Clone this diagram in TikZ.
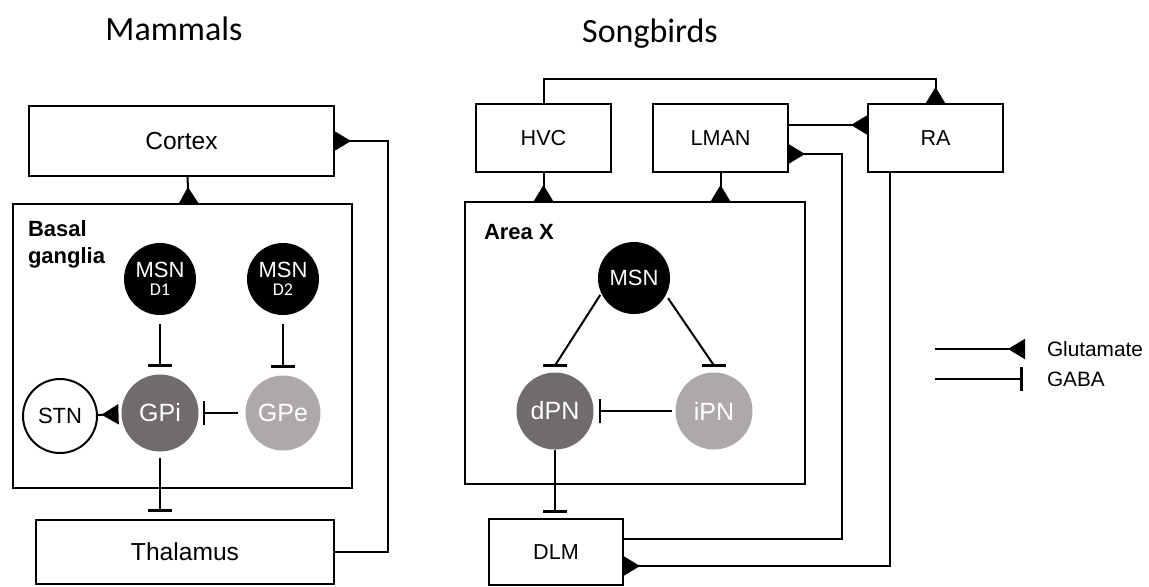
\documentclass[tikz,border=0pt]{standalone}
\usepackage{fontspec}
\setmainfont{Liberation Sans}
\newfontfamily\carlito{Carlito}
\usetikzlibrary{arrows.meta, positioning, calc}

\definecolor{gpdark}{RGB}{112,108,107}
\definecolor{gplight}{RGB}{173,169,168}
\newcommand{\dtype}[1]{{\carlito\fontsize{9}{10}\selectfont #1}}

\tikzset{
  region/.style={draw, line width=1pt, inner sep=0pt, outer sep=0pt},
  mamregion/.style={region, font=\fontsize{12.3}{14}\selectfont},
  birdregion/.style={region, minimum width=67.5pt, minimum height=34pt, font=\fontsize{10.8}{13}\selectfont},
  boxlabel/.style={anchor=north west, inner sep=0pt, align=left, font=\fontsize{11}{13.5}\selectfont\bfseries},
  neuron/.style={circle, inner sep=0pt, outer sep=0pt, text=white, align=center},
  msn/.style={neuron, fill=black, minimum size=36pt, font=\fontsize{11}{12}\selectfont},
  dgp/.style={neuron, fill=gpdark, minimum size=38.5pt, font=\fontsize{12.5}{14}\selectfont},
  lgp/.style={neuron, fill=gplight, minimum size=37.5pt, font=\fontsize{12.5}{14}\selectfont},
  title/.style={anchor=base, inner sep=0pt, font=\carlito\fontsize{17}{20}\selectfont},
  legtxt/.style={anchor=west, inner sep=0pt, font=\fontsize{10.4}{12}\selectfont},
  glu/.style={-{Triangle[reversed, length=8.5pt, width=10pt]}},
  gaba/.style={-{Bar[width=12pt, line width=1.4pt]}},
  hbar/.style={line width=1.4pt}
}

\begin{document}
\begin{tikzpicture}[x=0.5pt, y=-0.5pt, line width=1pt]
  \useasboundingbox (0,0) rectangle (1149,586);

  % titles
  \node[title] (mammals) at (174,40) {Mammals};
  \node[title] (songbirds) at (650,42) {Songbirds};

  % mammals
  \node[mamregion, minimum width=152.5pt, minimum height=35pt] (cortex) at (181.5,141) {Cortex};
  \node[mamregion, minimum width=149pt, minimum height=32pt] (thal) at (185,552) {Thalamus};
  \node[region, minimum width=169.5pt, minimum height=142pt] (bg) at (182.5,346) {};
  \node[boxlabel] (bglabel) at (27,220) {Basal\\ganglia};

  \node[msn] (msn1) at (160,279) {MSN\\[-3pt]\dtype{D1}};
  \node[msn] (msn2) at (283,279) {MSN\\[-3pt]\dtype{D2}};
  \node[dgp] (gpi) at (160,413) {GPi};
  \node[lgp] (gpe) at (283,413) {GPe};
  \node[neuron, draw, text=black, minimum size=37pt, font=\fontsize{11}{12}\selectfont] (stn) at (60,416) {STN};

  \draw[glu] ([xshift=3pt]cortex.south) -- ([xshift=3pt]bg.north);
  \draw[glu] (thal.east) -- ++(54,0) |- (cortex.east);
  \draw[gaba, shorten <=4.5pt, shorten >=4pt] (msn1) -- (gpi);
  \draw[gaba, shorten <=4.5pt, shorten >=4pt] (msn2) -- (gpe);
  \draw[gaba, shorten <=4pt, shorten >=2pt] (gpe) -- (gpi);
  \draw[glu, shorten >=1.5pt] (stn) -- (gpi);
  \draw[gaba, shorten <=3pt, shorten >=4pt] (gpi) -- (gpi |- thal.north);

  % songbirds
  \node[birdregion] (hvc) at (543.5,138) {HVC};
  \node[birdregion] (lman) at (720.5,138) {LMAN};
  \node[birdregion] (ra) at (935.5,138) {RA};
  \node[birdregion, minimum width=67pt, minimum height=33pt] (dlm) at (556,552) {DLM};
  \node[region, minimum width=170pt, minimum height=141pt] (areax) at (635,343) {};
  \node[boxlabel] (areaxlabel) at (483,223) {Area X};

  \node[msn] (msnx) at (634,278) {MSN};
  \node[dgp] (dpn) at (555,411) {dPN};
  \node[lgp, minimum size=38.5pt] (ipn) at (714,411) {iPN};
  \coordinate (dbar) at ([yshift=3.5pt]dpn.north);
  \coordinate (ibar) at ([yshift=3.5pt]ipn.north);

  \draw[glu] (hvc.south) -- (hvc.south |- areax.north);
  \draw[glu] (lman.south) -- (lman.south |- areax.north);
  \draw[glu] (hvc.north) -- ++(0,-25) -| (ra.north);
  \draw[glu] ([yshift=6.5pt]lman.east) -- ([yshift=6.5pt]ra.west);
  \draw[glu] ([yshift=6.5pt]dlm.east) -| (842,300) |- ([yshift=-8pt]lman.east);
  \draw[glu] ([xshift=-23pt]ra.south) |- ([yshift=-7pt]dlm.east);

  \draw[shorten <=1pt] (msnx.205) -- (dbar);
  \draw[hbar] ([xshift=-6pt]dbar) -- ([xshift=6pt]dbar);
  \draw[shorten <=2pt] (msnx.332) -- (ibar);
  \draw[hbar] ([xshift=-6pt]ibar) -- ([xshift=6pt]ibar);
  \draw[gaba, shorten <=2pt, shorten >=2.5pt] (ipn) -- (dpn);
  \draw[gaba, shorten >=3pt] (dpn) -- (dpn |- dlm.north);

  % legend
  \node[legtxt] (glutxt) at (1046,349) {Glutamate};
  \node[legtxt] (gabatxt) at (1046,379) {GABA};
  \coordinate (glustart) at (935,349);
  \coordinate (gabastart) at (935,379);
  \draw[glu, shorten >=10.5pt] (glustart) -- (glutxt.west);
  \draw[gaba, shorten >=11.5pt] (gabastart) -- (gabatxt.west);
\end{tikzpicture}
\end{document}
